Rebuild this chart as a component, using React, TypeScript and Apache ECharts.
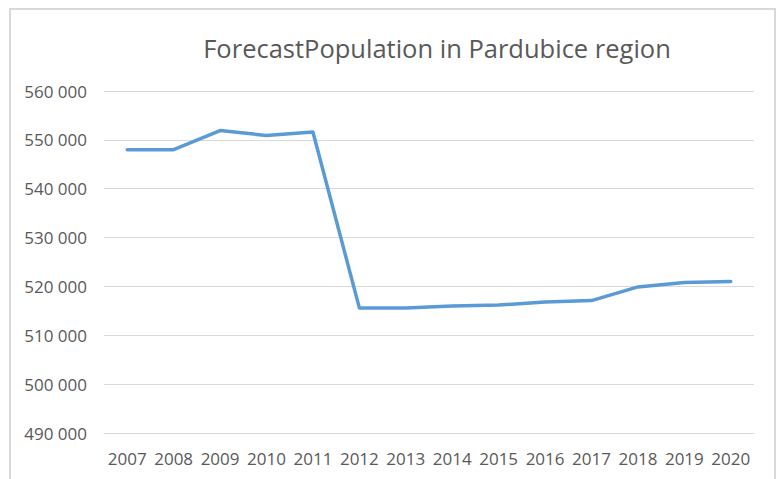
import React, { useEffect, useRef } from "react";
import * as echarts from "echarts";

const years = ["2007", "2008", "2009", "2010", "2011", "2012", "2013", "2014", "2015", "2016", "2017", "2018", "2019", "2020"];
const population = [548000, 548000, 551900, 550900, 551600, 515600, 515600, 516000, 516200, 516800, 517100, 519900, 520800, 521000];
const titleText = "ForecastPopulation in Pardubice region";
const yMin = 490000;
const yMax = 560000;
const yStep = 10000;

const fmt = (v: number) => {
  const s = String(Math.round(v));
  return s.replace(/\B(?=(\d{3})+(?!\d))/g, " ");
};

export default function App() {
  const ref = useRef<HTMLDivElement>(null);
  useEffect(() => {
    document.body.style.margin = "0";
    const chart = echarts.init(ref.current!, null, { renderer: "svg" });
    const font = "'Open Sans', sans-serif";
    chart.setOption({
      animation: false,
      backgroundColor: "#ffffff",
      title: {
        text: titleText,
        left: 432,
        top: 30,
        textAlign: "center",
        textStyle: { fontFamily: font, fontSize: 25.5, fontWeight: "normal", color: "#595959" },
      },
      graphic: [
        {
          type: "rect",
          shape: { x: 10, y: 9, width: 765, height: 480 },
          style: { fill: "none", stroke: "#d9d9d9", lineWidth: 2 },
          silent: true,
        },
      ],
      grid: { left: 104, right: 22, top: 91, bottom: 46, containLabel: false },
      xAxis: {
        type: "category",
        data: years,
        boundaryGap: true,
        axisLine: { show: true, lineStyle: { color: "#d9d9d9", width: 1 } },
        axisTick: { show: false },
        axisLabel: { fontFamily: font, fontSize: 17, color: "#595959", margin: 17, interval: 0, hideOverlap: false },
      },
      yAxis: {
        type: "value",
        min: yMin,
        max: yMax,
        interval: yStep,
        axisLine: { show: false },
        axisTick: { show: false },
        splitLine: { lineStyle: { color: "#d9d9d9", width: 1 } },
        axisLabel: { fontFamily: font, fontSize: 17, color: "#595959", margin: 17, formatter: fmt },
      },
      series: [
        {
          type: "line",
          data: population,
          showSymbol: false,
          symbol: "none",
          lineStyle: { color: "#5b9bd5", width: 3.5, cap: "round", join: "round" },
          itemStyle: { color: "#5b9bd5" },
        },
      ],
    });
    return () => chart.dispose();
  }, []);
  return <div ref={ref} style={{ position: "absolute", left: 0, top: 0, width: 776, height: 479 }} />;
}
